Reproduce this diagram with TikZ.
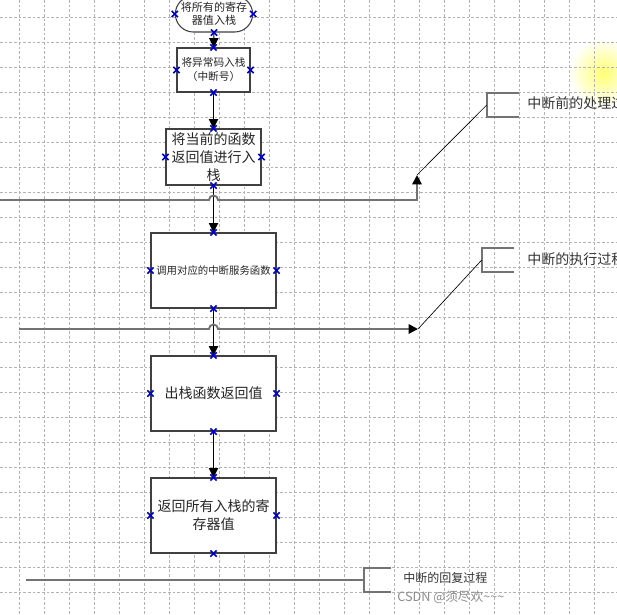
\documentclass[tikz,border=0pt]{standalone}
\usepackage{fontspec}
\setmainfont{Noto Sans CJK SC}
\usetikzlibrary{arrows.meta,shapes.misc}

\begin{document}
\begin{tikzpicture}[x=0.75pt, y=-0.75pt,
	box/.style={draw=black!75, line width=0.8pt, fill=white, text=black!85, minimum width=93.75pt, minimum height=56.25pt, inner sep=1pt, align=center, font=\fontsize{10.5}{13.5}\selectfont},
	flow/.style={black, line width=0.8pt, -{Triangle[length=7pt, width=7pt]}},
	bus/.style={black!55, line width=1.4pt},
	lead/.style={black, line width=0.5pt},
	xpt/.style={cross out, draw=blue!80!black, line width=1.2pt, minimum size=3.5pt, inner sep=0pt},
	note/.style={anchor=west, inner sep=0pt, text=black!80, font=\fontsize{10.5}{12}\selectfont}]

	\useasboundingbox (0,0) rectangle (617,614);
	\fill[white] (0,0) rectangle (617,614);
	\shade[inner color=yellow!55, outer color=white] (603,73) circle (26pt);
	% grid
	\foreach \i in {0,...,23} {
		\draw[black!30, line width=0.4pt, dash pattern=on 2pt off 1.5pt] (19+25*\i,0) -- (19+25*\i,614);
		\draw[black!30, line width=0.4pt, dash pattern=on 2pt off 1.5pt] (0,17+25*\i) -- (617,17+25*\i);
	}

	% steps
	\node[box, rounded rectangle, minimum width=54pt, minimum height=27pt, font=\fontsize{8.3}{9.5}\selectfont] (push) at (214,14) {将所有的寄存\\器值入栈};
	\node[box, minimum width=54.75pt, minimum height=33pt, font=\fontsize{8}{10.5}\selectfont] (code) at (213.5,70) {将异常码入栈\\（中断号）};
	\node[box, minimum width=71.25pt, minimum height=42pt] (ret) at (213.5,157) {将当前的函数\\返回值进行入\\栈};
	\node[box, font=\fontsize{7.8}{9}\selectfont] (isr) at (213.5,270.5) {调用对应的中断服务函数};
	\node[box] (pop) at (213.5,393.5) {出栈函数返回值};
	\node[box] (rest) at (213.5,515.5) {返回所有入栈的寄\\存器值};

	\foreach \a/\b in {push/code, code/ret, ret/isr, isr/pop, pop/rest}
		\draw[flow] (\a) -- (\b);

	% connection points
	\foreach \n in {code,ret,isr,pop,rest}
		\foreach \a in {north,south,east,west}
			\node[xpt] (\n-\a) at (\n.\a) {};
	\foreach \a in {south,east,west}
		\node[xpt] (push-\a) at (push.\a) {};

	% phase lines
	\coordinate (s1) at (0,200);
	\coordinate (k1) at (417,200);
	\coordinate (t1) at (417,175);
	\coordinate (s2) at (19,329);
	\coordinate (k2) at (418,329);
	\coordinate (s3) at (26,580);

	\node[minimum width=24pt, minimum height=18pt, inner sep=0pt] (c1) at (503,105) {};
	\node[minimum width=24pt, minimum height=18pt, inner sep=0pt] (c2) at (498,260) {};
	\node[minimum width=20.25pt, minimum height=18pt, inner sep=0pt] (c3) at (377.5,580) {};

	\draw[bus, -{Triangle[length=7pt, width=7pt, color=black]}] (s1) -- ([xshift=-3.4pt]ret.south |- s1) arc[start angle=180, end angle=0, radius=3.4pt] -- (k1) -- (t1);
	\draw[bus, -{Triangle[length=7pt, width=7pt, color=black]}] (s2) -- ([xshift=-3.4pt]isr.south |- s2) arc[start angle=180, end angle=0, radius=3.4pt] -- (k2);
	\draw[bus] (s3) -- (c3.west);

	\foreach \c in {c1,c2,c3}
		\draw[bus] (\c.north east) -- (\c.north west) -- (\c.south west) -- (\c.south east);
	\draw[lead] (t1) -- (c1.west);
	\draw[lead] (k2) -- (c2.west);

	\node[note] (n1) at (527,103) {中断前的处理过程};
	\node[note] (n2) at (527,259) {中断的执行过程};
	\node[note, font=\fontsize{9}{10}\selectfont] (n3) at (403,578) {中断的回复过程};
	\node[anchor=west, inner sep=0pt, text=black!45, font=\fontsize{9.5}{10}\selectfont] (wm) at (397,597) {CSDN @须尽欢\textasciitilde\textasciitilde\textasciitilde};
\end{tikzpicture}
\end{document}
